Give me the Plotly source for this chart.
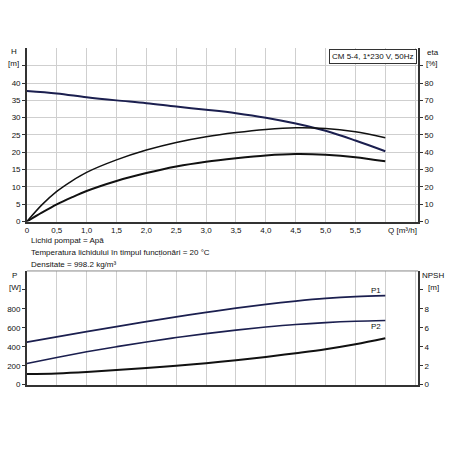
import plotly.graph_objects as go

# flow values (m3/h)
q = [0, 0.5, 1.0, 1.5, 2.0, 2.5, 3.0, 3.5, 4.0, 4.5, 5.0, 5.5, 6.0]
# the efficiency curves bend sharply near zero flow, so they are read at a few extra points
q_eta = [0, 0.25, 0.5, 0.75, 1.0, 1.5, 2.0, 2.5, 3.0, 3.5, 4.0, 4.5, 5.0, 5.5, 6.0]

# head curve H [m]
h = [37.7, 37.0, 35.9, 35.0, 34.2, 33.2, 32.3, 31.3, 30.0, 28.3, 26.2, 23.4, 20.3]
# efficiency curves eta [%]
eta_p = [0, 9.6, 17.4, 23.4, 28.4, 35.6, 41.3, 45.7, 49.0, 51.4, 53.2, 54.2, 53.8, 51.8, 48.4]
eta_t = [0, 5.1, 9.9, 13.9, 17.6, 23.4, 28.0, 31.8, 34.6, 36.6, 38.2, 39.0, 38.6, 37.2, 34.8]

# power curves P [W]
p1 = [450, 505, 560, 613, 665, 715, 763, 808, 848, 882, 910, 929, 939]
p2 = [223, 287, 347, 401, 451, 497, 539, 576, 608, 635, 655, 669, 677]
# NPSH [m]
npsh = [1.12, 1.18, 1.33, 1.54, 1.75, 1.99, 2.27, 2.59, 2.93, 3.32, 3.74, 4.26, 4.89]

q_ticks = [0, 0.5, 1.0, 1.5, 2.0, 2.5, 3.0, 3.5, 4.0, 4.5, 5.0, 5.5, 6.0, 6.5]
q_labels = ['0', '0,5', '1,0', '1,5', '2,0', '2,5', '3,0', '3,5', '4,0', '4,5', '5,0', '5,5', '', '']
h_ticks = [0, 5, 10, 15, 20, 25, 30, 35, 40, 45]
eta_ticks = [0, 10, 20, 30, 40, 50, 60, 70, 80, 90]
p_ticks = [0, 200, 400, 600, 800, 1000]
npsh_ticks = [0, 2, 4, 6, 8, 10]

W = 450
def px_x(v):
    return v / W
def px_y(v):
    return 1 - v / W

fnt = dict(family='Liberation Sans, Arial', size=8, color='#111')
navy = '#1b1f4f'
grid = '#cfcfcf'
axc = '#333'

fig = go.Figure()
fig.add_trace(go.Scatter(x=q, y=h, mode='lines', line=dict(color=navy, width=2, shape='spline'),
                         xaxis='x', yaxis='y'))
fig.add_trace(go.Scatter(x=q_eta, y=eta_p, mode='lines',
                         line=dict(color='#111', width=1.5, shape='spline', smoothing=0.8),
                         xaxis='x', yaxis='y2'))
fig.add_trace(go.Scatter(x=q_eta, y=eta_t, mode='lines',
                         line=dict(color='#111', width=2, shape='spline', smoothing=0.8),
                         xaxis='x', yaxis='y2'))
fig.add_trace(go.Scatter(x=q, y=p1, mode='lines', line=dict(color=navy, width=1.8, shape='spline'),
                         xaxis='x2', yaxis='y3'))
fig.add_trace(go.Scatter(x=q, y=p2, mode='lines', line=dict(color=navy, width=1.6, shape='spline'),
                         xaxis='x2', yaxis='y3'))
fig.add_trace(go.Scatter(x=q, y=npsh, mode='lines', line=dict(color='#111', width=2, shape='spline'),
                         xaxis='x2', yaxis='y4'))

xdom = [px_x(25), px_x(418)]
top_dom = [px_y(224), px_y(49)]
bot_dom = [px_y(389), px_y(274)]

common_x = dict(range=[0, 6.55], tickvals=q_ticks, showgrid=True, gridcolor=grid, gridwidth=1,
                showline=True, linecolor=axc, linewidth=1.5, zeroline=False, tickfont=fnt,
                ticks='', fixedrange=True)

fig.update_layout(
    width=450, height=450,
    margin=dict(l=0, r=0, t=0, b=0),
    paper_bgcolor='white', plot_bgcolor='white',
    showlegend=False,
    font=fnt,
    xaxis=dict(common_x, domain=xdom, anchor='y', ticktext=q_labels),
    yaxis=dict(domain=top_dom, range=[0, 50], tickvals=h_ticks,
               ticktext=[str(v) if v <= 40 else '' for v in h_ticks],
               showgrid=True, gridcolor=grid, showline=True, linecolor=axc, linewidth=1.5,
               zeroline=False, ticks='outside', ticklen=3, tickcolor=axc, tickfont=fnt, anchor='x'),
    yaxis2=dict(overlaying='y', side='right', range=[0, 100], tickvals=eta_ticks,
                ticktext=[str(v) if v <= 80 else '' for v in eta_ticks],
                showgrid=False, showline=True, linecolor=axc, linewidth=1.5, zeroline=False,
                ticks='outside', ticklen=3, tickcolor=axc, tickfont=fnt, anchor='x'),
    xaxis2=dict(common_x, domain=xdom, anchor='y3', ticktext=['' for _ in q_ticks]),
    yaxis3=dict(domain=bot_dom, range=[0, 1200], tickvals=p_ticks,
                ticktext=[str(v) if v <= 800 else '' for v in p_ticks],
                showgrid=False, showline=True, linecolor=axc, linewidth=1.5, zeroline=False,
                ticks='outside', ticklen=3, tickcolor=axc, tickfont=fnt, anchor='x2'),
    yaxis4=dict(overlaying='y3', side='right', range=[0, 12], tickvals=npsh_ticks,
                ticktext=[str(v) if v <= 8 else '' for v in npsh_ticks],
                showgrid=False, showline=True, linecolor=axc, linewidth=1.5, zeroline=False,
                ticks='outside', ticklen=3, tickcolor=axc, tickfont=fnt, anchor='x2'),
)

# top border of the lower plot
fig.add_shape(type='line', xref='x2 domain', yref='y3 domain', x0=0, x1=1, y0=1, y1=1,
              line=dict(color='#888', width=1))

ann = [
    ('H', 12, 52, 'center'), ('[m]', 12, 64, 'center'),
    ('eta', 433, 53, 'center'), ('[%]', 432, 64, 'center'),
    ('P', 13, 279, 'center'), ('[W]', 13, 291, 'center'),
    ('NPSH', 433, 279, 'center'), ('[m]', 433, 291, 'center'),
    ('Lichid pompat = Apă', 27, 243, 'left'),
    ('Temperatura lichidului în timpul funcționări = 20 °C', 27, 255, 'left'),
    ('Densitate = 998.2 kg/m³', 27, 267, 'left'),
]
for t, x, y, al in ann:
    fig.add_annotation(text=t, xref='paper', yref='paper', x=px_x(x), y=px_y(y),
                       xanchor=al, yanchor='middle', showarrow=False, font=fnt)

fig.add_annotation(text='Q [m³/h]', xref='x', yref='paper', x=6.02, y=px_y(233),
                   xanchor='left', yanchor='middle', showarrow=False, font=fnt)
fig.add_annotation(text='CM 5-4, 1*230 V, 50Hz', xref='paper', yref='paper',
                   x=px_x(417), y=px_y(50), xanchor='right', yanchor='top', showarrow=False,
                   font=fnt, bgcolor='white', bordercolor='#333', borderwidth=1, borderpad=2)
fig.add_annotation(text='P1', xref='x2', yref='y3', x=5.85, y=p1[-1] + 60,
                   xanchor='center', yanchor='middle', showarrow=False, font=fnt)
fig.add_annotation(text='P2', xref='x2', yref='y3', x=5.85, y=p2[-1] - 60,
                   xanchor='center', yanchor='middle', showarrow=False, font=fnt)

# page body has a default margin; drop it so the figure fills the window
fig.write_html("out.html", config={'displayModeBar': False},
               post_script="document.body.style.margin='0';")
